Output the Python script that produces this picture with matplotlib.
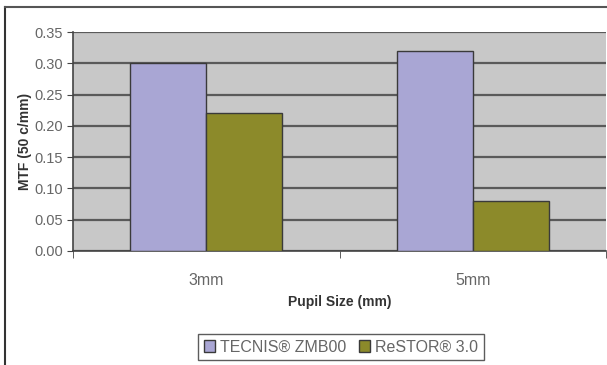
import numpy as np
import matplotlib.pyplot as plt
from matplotlib.lines import Line2D

plt.rcParams['font.family'] = ['Liberation Sans', 'DejaVu Sans']

# MTF at 50 c/mm for each pupil size
pupil_sizes = ['3mm', '5mm']
tecnis = [0.30, 0.32]
restor = [0.22, 0.08]
series_names = ['TECNIS\u00ae ZMB00', 'ReSTOR\u00ae 3.0']
y_ticks = [0.00, 0.05, 0.10, 0.15, 0.20, 0.25, 0.30, 0.35]

fig = plt.figure(figsize=(6.07, 3.65), dpi=100)
ax = fig.add_axes([73 / 607, 1 - 251 / 365, 533 / 607, 219 / 365])
ax.set_facecolor('#c8c8c8')

x = np.arange(len(pupil_sizes))
w = 1 / 3.5
ax.bar(x - w / 2, tecnis, w, color='#a9a6d4', edgecolor='#3a3a3a', linewidth=1.0,
       label=series_names[0], zorder=3)
ax.bar(x + w / 2, restor, w, color='#8c8a2a', edgecolor='#3a3a3a', linewidth=1.0,
       label=series_names[1], zorder=3)

ax.set_xlim(-0.5, len(pupil_sizes) - 0.5)
ax.set_ylim(0, 0.35)
ax.set_yticks(y_ticks)
ax.set_yticklabels(['%.2f' % v for v in y_ticks])
ax.yaxis.grid(True, color='#5a5a5a', linewidth=1.6, zorder=1)
ax.set_axisbelow(True)

ax.set_xticks(x)
ax.set_xticklabels(pupil_sizes)
ax.set_xticks(np.arange(-0.5, len(pupil_sizes), 1.0), minor=True)
ax.tick_params(axis='x', which='major', length=0, pad=16, labelsize=11.5, labelcolor='#666666')
ax.tick_params(axis='x', which='minor', length=5, direction='out', color='#444444')
ax.tick_params(axis='y', length=4, direction='out', color='#444444', labelsize=10.5,
               labelcolor='#666666', pad=3)

for s in ['top', 'right']:
    ax.spines[s].set_visible(False)
for s in ['left', 'bottom']:
    ax.spines[s].set_color('#444444')
    ax.spines[s].set_linewidth(1.2)

ax.set_xlabel('Pupil Size (mm)', fontsize=10, fontweight='bold', color='#333333', labelpad=5)
ax.set_ylabel('MTF (50 c/mm)', fontsize=10, fontweight='bold', color='#333333', labelpad=2)

leg = fig.legend(loc='center', bbox_to_anchor=(341 / 607, 1 - 347 / 365), ncol=2,
                 fontsize=11.5, frameon=True, fancybox=False, handlelength=0.7,
                 handleheight=0.7, handletextpad=0.3, columnspacing=0.8,
                 borderpad=0.35, labelcolor='#666666')
leg.get_frame().set_edgecolor('#333333')
leg.get_frame().set_linewidth(1.0)

# outer frame (top and left edges)
fig.add_artist(Line2D([5 / 607, 5 / 607], [0, 1 - 7 / 365], transform=fig.transFigure,
                      color='#333333', linewidth=1.5))
fig.add_artist(Line2D([5 / 607, 1], [1 - 7 / 365, 1 - 7 / 365], transform=fig.transFigure,
                      color='#555555', linewidth=1.5))

fig.savefig('out.png', dpi=100)
